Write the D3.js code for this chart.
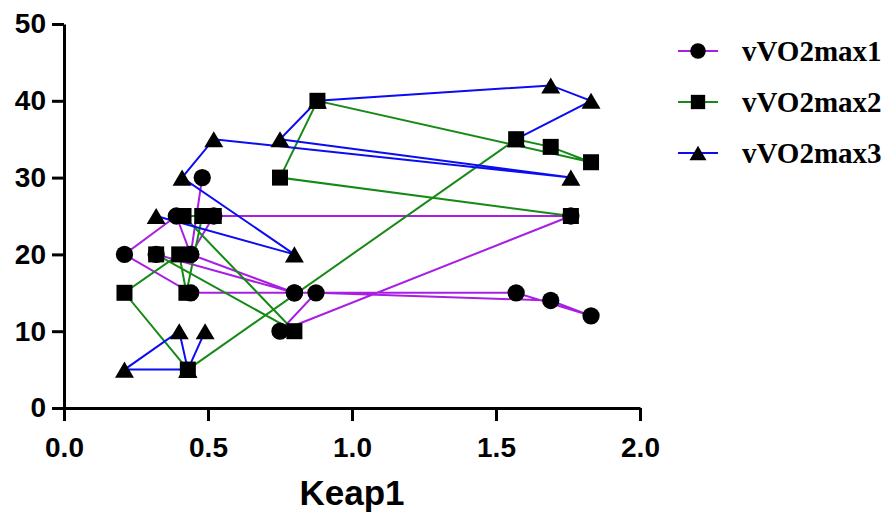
<!DOCTYPE html>
<html>
<head>
<meta charset="utf-8">
<script src="https://cdn.jsdelivr.net/npm/d3@7"></script>
<style>
  html, body { margin: 0; padding: 0; background: #fff; }
  svg { display: block; }
  .axis text { font-family: 'Liberation Sans', Arial, sans-serif; font-weight: bold; font-size: 28px; fill: #000; }
  .axis path, .axis line { stroke: #000; stroke-width: 3px; }
  .legend text { font-family: 'Liberation Serif', 'Times New Roman', serif; font-weight: bold; font-size: 29px; fill: #000; }
</style>
</head>
<body>
<div id="chart"></div>
<script>
// Series values in drawing order (null = break in the line)
const series1X = [0.48, 0.44, 0.39, 0.21, 0.44, 0.80, 1.57, 1.83, 1.69, 0.875, 0.75, 1.76, 0.52, 0.44, 0.80, 0.32];
const series1Y = [30, 20, 25, 20, 15, 15, 15, 12, 14, 15, 10, 25, 25, 20, 15, 20];

const series2X = [0.32, 0.80, 0.415, 0.52, 0.48, 0.425, 0.40, 0.21, 0.43, 1.57, 1.69, 1.83, 0.88, 0.75, 1.76];
const series2Y = [20, 10, 25, 25, 25, 15, 20, 15, 5, 35, 34, 32, 40, 30, 25];

const series3X = [0.49, 0.43, 0.40, 0.21, 0.43, null, 0.32, 0.80, 0.41, 0.52, 1.76, 0.75, 0.88, 1.69, 1.83, 1.57];
const series3Y = [10, 5, 10, 5, 5, null, 25, 20, 30, 35, 30, 35, 40, 42, 40, 35];

const seriesNames = ['vVO2max1', 'vVO2max2', 'vVO2max3'];
const seriesColors = ['#a81fe3', '#168a16', '#0c0cf2'];
const xTicks = [0, 0.5, 1.0, 1.5, 2.0];
const yTicks = [0, 10, 20, 30, 40, 50];

const width = 896, height = 513;
const margin = { left: 64, right: 256, top: 24, bottom: 105 };

// triangle centred on its bounding box (like Prism), so it hides behind a square
const boxTriangle = {
    draw(context, size) {
        const w = Math.sqrt(size) * 1.2, h = w * 0.85;
        context.moveTo(0, -h / 2);
        context.lineTo(w / 2, h / 2);
        context.lineTo(-w / 2, h / 2);
        context.closePath();
    }
};

const svg = d3.select('#chart').append('svg')
    .attr('width', width)
    .attr('height', height);

const x = d3.scaleLinear().domain([0, 2]).range([margin.left, width - margin.right]);
const y = d3.scaleLinear().domain([0, 50]).range([height - margin.bottom, margin.top]);

// Build point lists
const allSeries = [
    { xs: series1X, ys: series1Y, shape: d3.symbolCircle, size: 235 },
    { xs: series2X, ys: series2Y, shape: d3.symbolSquare, size: 256 },
    { xs: series3X, ys: series3Y, shape: boxTriangle, size: 250 }
].map((s, i) => ({
    ...s,
    name: seriesNames[i],
    color: seriesColors[i],
    points: s.xs.map((v, j) => v === null ? null : { x: v, y: s.ys[j] })
}));

const line = d3.line()
    .defined(d => d !== null)
    .x(d => x(d.x))
    .y(d => y(d.y));

// Lines
const lineGroup = svg.append('g');
allSeries.forEach(s => {
    lineGroup.append('path')
        .datum(s.points)
        .attr('fill', 'none')
        .attr('stroke', s.color)
        .attr('stroke-width', 2)
        .attr('d', line);
});

// Markers: triangles, circles, then squares on top
const markerGroup = svg.append('g');
[2, 0, 1].forEach(i => {
    const s = allSeries[i];
    markerGroup.append('g')
        .selectAll('path')
        .data(s.points.filter(p => p !== null))
        .enter().append('path')
        .attr('transform', d => `translate(${x(d.x)},${y(d.y)})`)
        .attr('d', d3.symbol().type(s.shape).size(s.size))
        .attr('fill', '#000');
});

// Axes
svg.append('g')
    .attr('class', 'axis')
    .attr('transform', `translate(0,${y(0)})`)
    .call(d3.axisBottom(x).tickValues(xTicks).tickFormat(d3.format('.1f')).tickSize(13).tickSizeOuter(0).tickPadding(16));

svg.append('g')
    .attr('class', 'axis')
    .attr('transform', `translate(${x(0)},0)`)
    .call(d3.axisLeft(y).tickValues(yTicks).tickFormat(d3.format('d')).tickSize(12).tickSizeOuter(0).tickPadding(6));

svg.append('text')
    .attr('x', (x(0) + x(2)) / 2)
    .attr('y', 505)
    .attr('text-anchor', 'middle')
    .style('font-family', "'Liberation Sans', Arial, sans-serif")
    .style('font-weight', 'bold')
    .style('font-size', '35px')
    .text('Keap1');

// Legend
const legend = svg.append('g').attr('class', 'legend');
const legendY = [51, 102, 153];
allSeries.forEach((s, i) => {
    const g = legend.append('g').attr('transform', `translate(0,${legendY[i]})`);
    g.append('line')
        .attr('x1', 678).attr('x2', 718)
        .attr('stroke', s.color).attr('stroke-width', 2);
    g.append('path')
        .attr('transform', 'translate(698,0)')
        .attr('d', d3.symbol().type(s.shape).size(s.size * 0.8))
        .attr('fill', '#000');
    g.append('text')
        .attr('x', 742)
        .attr('dy', '0.35em')
        .text(s.name);
});
</script>
</body>
</html>
